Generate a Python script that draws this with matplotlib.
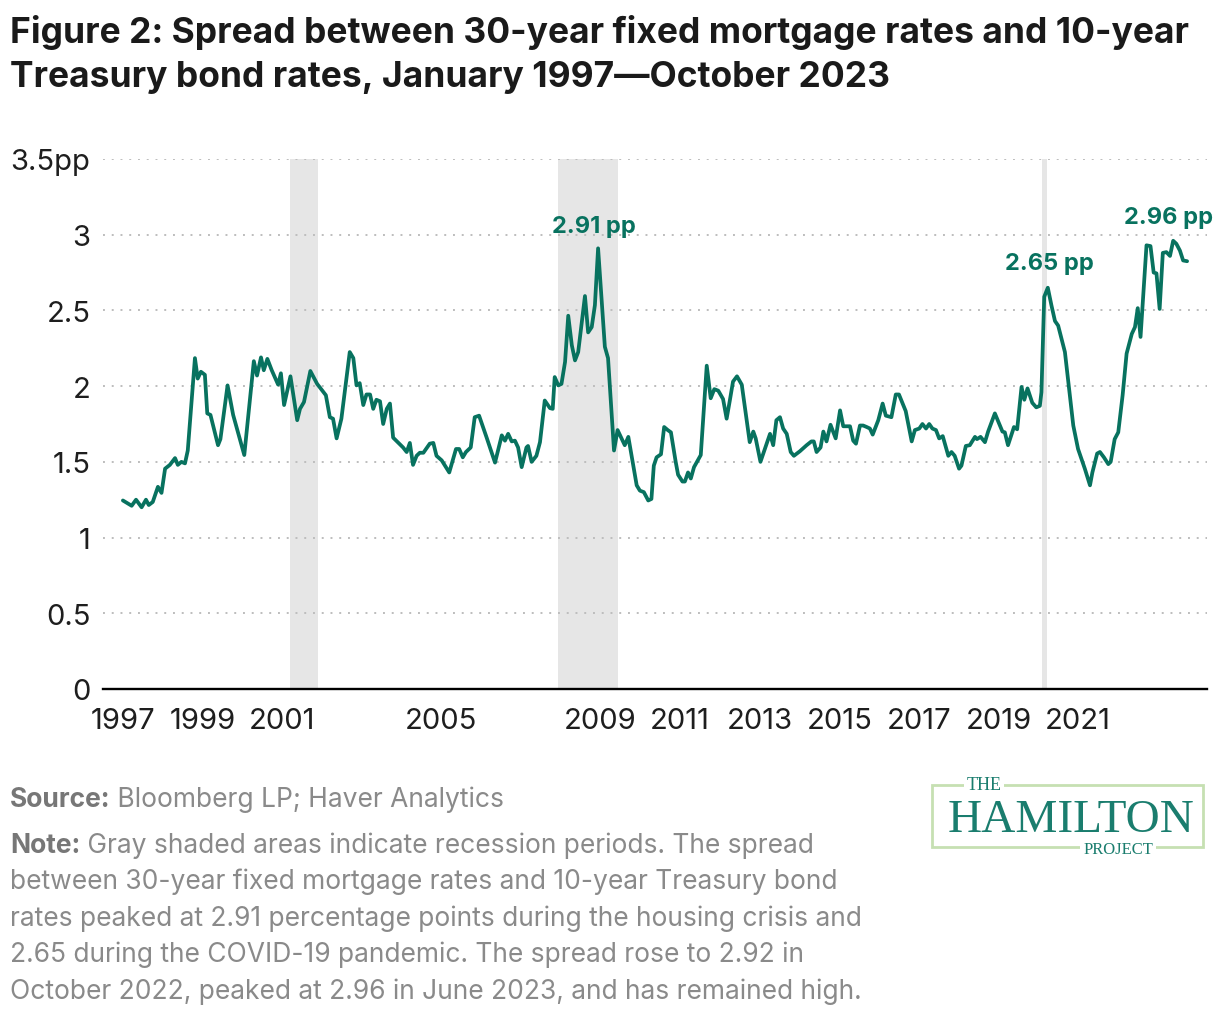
import matplotlib
matplotlib.use("Agg")
import matplotlib.pyplot as plt
from matplotlib.patches import Rectangle

plt.rcParams['font.family'] = ['Inter', 'DejaVu Sans']

# data (decimal year, spread in pp)
years = [
    1997.00, 1997.22, 1997.33, 1997.47, 1997.58, 1997.65, 1997.75, 1997.88, 1997.97,
    1998.06, 1998.18, 1998.31, 1998.38, 1998.47, 1998.56, 1998.63, 1998.81, 1998.88, 1998.96,
    1999.06, 1999.12, 1999.20, 1999.39, 1999.45, 1999.63, 1999.77,
    2000.05, 2000.29, 2000.37, 2000.47, 2000.54, 2000.63, 2000.74, 2000.90, 2000.97,
    2001.05, 2001.21, 2001.38, 2001.45, 2001.55, 2001.71, 2001.88,
    2002.10, 2002.20, 2002.28, 2002.37, 2002.49, 2002.70, 2002.79, 2002.87, 2002.95,
    2003.04, 2003.12, 2003.21, 2003.29, 2003.37, 2003.46, 2003.54, 2003.63, 2003.71, 2003.79,
    2004.04, 2004.13, 2004.21, 2004.29, 2004.38, 2004.46, 2004.55, 2004.71, 2004.80, 2004.88,
    2005.01, 2005.20, 2005.37, 2005.45, 2005.54, 2005.62, 2005.74, 2005.84, 2005.95,
    2006.14, 2006.35, 2006.52, 2006.60, 2006.68, 2006.77, 2006.85, 2006.93,
    2007.02, 2007.14, 2007.18, 2007.27, 2007.39, 2007.48, 2007.60, 2007.73, 2007.80, 2007.85, 2007.94,
    2008.02, 2008.11, 2008.19, 2008.28, 2008.36, 2008.44, 2008.61, 2008.69, 2008.78, 2008.86, 2008.94,
    2009.11, 2009.19, 2009.34, 2009.43, 2009.53, 2009.61, 2009.70, 2009.91, 2009.99,
    2010.09, 2010.20, 2010.28, 2010.34, 2010.41, 2010.52, 2010.60, 2010.69, 2010.77, 2010.89, 2010.95,
    2011.06, 2011.12, 2011.20, 2011.27, 2011.35, 2011.52, 2011.67, 2011.77, 2011.86, 2011.96,
    2012.08, 2012.17, 2012.25, 2012.33, 2012.43, 2012.55, 2012.75, 2012.84, 2012.90,
    2013.02, 2013.26, 2013.34, 2013.42, 2013.51, 2013.59, 2013.68, 2013.78, 2013.86,
    2014.01, 2014.18, 2014.30, 2014.36, 2014.43, 2014.53, 2014.60, 2014.68, 2014.78, 2014.91,
    2015.02, 2015.10, 2015.27, 2015.35, 2015.42, 2015.52, 2015.60, 2015.69, 2015.77, 2015.84, 2015.98,
    2016.09, 2016.17, 2016.31, 2016.42, 2016.50, 2016.67, 2016.82, 2016.90,
    2017.01, 2017.09, 2017.18, 2017.26, 2017.34, 2017.43, 2017.51, 2017.60, 2017.74, 2017.82, 2017.90,
    2018.01, 2018.07, 2018.18, 2018.28, 2018.41, 2018.46, 2018.55, 2018.66, 2018.74, 2018.91,
    2019.10, 2019.16, 2019.24, 2019.39, 2019.47, 2019.58, 2019.65, 2019.73, 2019.85, 2019.95,
    2020.04, 2020.08, 2020.15, 2020.24, 2020.33, 2020.42, 2020.50, 2020.67, 2020.88,
    2021.00, 2021.17, 2021.30, 2021.36, 2021.48, 2021.55, 2021.65, 2021.76, 2021.82, 2021.92,
    2022.01, 2022.12, 2022.22, 2022.35, 2022.43, 2022.50, 2022.57, 2022.72, 2022.82, 2022.90, 2022.97,
    2023.05, 2023.13, 2023.22, 2023.31, 2023.39, 2023.47, 2023.56, 2023.64, 2023.74,
]
spread = [
    1.245, 1.21, 1.25, 1.20, 1.25, 1.215, 1.235, 1.335, 1.295,
    1.455, 1.48, 1.525, 1.48, 1.50, 1.49, 1.575, 2.185, 2.05, 2.095,
    2.075, 1.82, 1.81, 1.61, 1.65, 2.005, 1.81,
    1.545, 2.165, 2.07, 2.19, 2.105, 2.18, 2.105, 2.01, 2.085,
    1.875, 2.065, 1.775, 1.85, 1.895, 2.10, 2.015,
    1.94, 1.795, 1.785, 1.655, 1.785, 2.225, 2.185, 2.005, 2.02,
    1.875, 1.945, 1.945, 1.85, 1.91, 1.90, 1.75, 1.85, 1.885, 1.66,
    1.595, 1.565, 1.625, 1.48, 1.54, 1.56, 1.56, 1.62, 1.625, 1.54,
    1.51, 1.43, 1.585, 1.585, 1.53, 1.565, 1.595, 1.795, 1.805,
    1.66, 1.495, 1.675, 1.64, 1.685, 1.635, 1.64, 1.595,
    1.465, 1.595, 1.605, 1.50, 1.54, 1.63, 1.905, 1.855, 1.85, 2.06, 2.005,
    2.015, 2.16, 2.465, 2.27, 2.17, 2.225, 2.595, 2.355, 2.39, 2.535, 2.91,
    2.26, 2.185, 1.575, 1.71, 1.655, 1.61, 1.665, 1.345, 1.31,
    1.30, 1.245, 1.255, 1.475, 1.53, 1.55, 1.73, 1.71, 1.695, 1.50, 1.415,
    1.37, 1.37, 1.43, 1.39, 1.465, 1.545, 2.135, 1.92, 1.98, 1.97,
    1.915, 1.785, 1.905, 2.03, 2.065, 2.01, 1.63, 1.70, 1.655,
    1.50, 1.685, 1.61, 1.775, 1.795, 1.72, 1.685, 1.565, 1.54,
    1.57, 1.61, 1.635, 1.635, 1.565, 1.595, 1.70, 1.635, 1.745, 1.655,
    1.84, 1.735, 1.735, 1.64, 1.62, 1.74, 1.74, 1.73, 1.72, 1.68, 1.775,
    1.885, 1.805, 1.795, 1.945, 1.945, 1.835, 1.635, 1.71,
    1.72, 1.75, 1.72, 1.75, 1.72, 1.71, 1.655, 1.67, 1.54, 1.565, 1.54,
    1.455, 1.475, 1.605, 1.61, 1.665, 1.65, 1.665, 1.63, 1.70, 1.82,
    1.70, 1.695, 1.61, 1.73, 1.715, 1.995, 1.91, 1.985, 1.89, 1.86,
    1.87, 1.96, 2.59, 2.65, 2.535, 2.43, 2.40, 2.225, 1.74,
    1.585, 1.455, 1.345, 1.43, 1.555, 1.565, 1.53, 1.485, 1.50, 1.65,
    1.695, 1.94, 2.215, 2.345, 2.39, 2.515, 2.325, 2.93, 2.925, 2.75, 2.745,
    2.51, 2.88, 2.885, 2.86, 2.96, 2.94, 2.895, 2.83, 2.825,
]

recessions = [(2001.20, 2001.90), (2007.93, 2009.44), (2020.09, 2020.22)]

year_ticks = [1997, 1999, 2001, 2005, 2009, 2011, 2013, 2015, 2017, 2019, 2021]
y_ticks = [0, 0.5, 1, 1.5, 2, 2.5, 3, 3.5]
y_labels = ['0', '0.5', '1', '1.5', '2', '2.5', '3', '3.5pp']

callouts = [('2.91 pp', 2008.83, 3.055, 'center'),
            ('2.65 pp', 2020.29, 2.81, 'center'),
            ('2.96 pp', 2022.16, 3.12, 'left')]

TEAL = '#08725f'
W, H = 1220, 1020

fig = plt.figure(figsize=(W / 100, H / 100), dpi=100)
ax = fig.add_axes([103 / W, 1 - 690 / H, (1207 - 103) / W, (690 - 160) / H])

for a, b in recessions:
    ax.axvspan(a, b, color='#e6e6e6', lw=0, zorder=0)

for y in y_ticks[1:]:
    ax.axhline(y, color='#bdbdbd', lw=1.4, ls=(0, (1, 3.5)), zorder=1)
ax.axhline(0, color='black', lw=1.7, zorder=4, clip_on=False)

ax.plot(years, spread, color=TEAL, lw=2.7, solid_joinstyle='round',
        solid_capstyle='round', zorder=3)

for txt, x, y, ha in callouts:
    ax.text(x, y, txt, color=TEAL, fontsize=17, fontweight='bold',
            ha=ha, va='center', clip_on=False)

ax.set_xlim(1996.5, 2024.24)
ax.set_ylim(0, 3.5)
ax.set_xticks(year_ticks)
ax.set_xticklabels([str(t) for t in year_ticks])
ax.set_yticks(y_ticks)
ax.set_yticklabels(y_labels)
for s in ax.spines.values():
    s.set_visible(False)
ax.tick_params(length=0, labelsize=21, colors='#1e1e1e')
ax.tick_params(axis='y', pad=9)
ax.tick_params(axis='x', pad=13)

# title
fig.text(10 / W, 1 - 43 / H, 'Figure 2: Spread between 30-year fixed mortgage rates and 10-year',
         fontsize=25.5, fontweight='bold', color='#1a1a1a', va='baseline')
fig.text(10 / W, 1 - 87 / H, 'Treasury bond rates, January 1997\u2014October 2023',
         fontsize=25.5, fontweight='bold', color='#1a1a1a', va='baseline')

# source and note
GREY = '#8a8a8a'
BOLD_GREY = '#777777'
t = fig.text(10 / W, 1 - 807 / H, 'Source:', fontsize=19, fontweight='bold',
             color=BOLD_GREY, va='baseline')
ax.annotate(' Bloomberg LP; Haver Analytics', xy=(1, 0), xycoords=t,
            fontsize=19, color=GREY, va='bottom', ha='left')

t2 = fig.text(10 / W, 1 - 853 / H, 'Note:', fontsize=19, fontweight='bold',
              color=BOLD_GREY, va='baseline')
ax.annotate(' Gray shaded areas indicate recession periods. The spread', xy=(1, 0),
            xycoords=t2, fontsize=19, color=GREY, va='bottom', ha='left')
note_lines = [
    'between 30-year fixed mortgage rates and 10-year Treasury bond',
    'rates peaked at 2.91 percentage points during the housing crisis and',
    '2.65 during the COVID-19 pandemic. The spread rose to 2.92 in',
    'October 2022, peaked at 2.96 in June 2023, and has remained high.',
]
for i, line in enumerate(note_lines):
    fig.text(10 / W, 1 - (889.5 + 36.5 * i) / H, line, fontsize=19, color=GREY,
             va='baseline')

# logo
LOGO = '#1a7d6e'
fig.add_artist(Rectangle((932 / W, 1 - 848 / H), 271 / W, 62 / H,
                         transform=fig.transFigure, fill=False,
                         ec='#c6e0b2', lw=2))
fig.text(984 / W, 1 - 786 / H, 'THE', fontsize=13, color=LOGO, ha='center',
         va='center', family='Liberation Serif',
         bbox=dict(fc='white', ec='none', pad=2))
fig.text(1071 / W, 1 - 832 / H, 'HAMILTON', fontsize=34, color=LOGO, ha='center',
         va='baseline', family='Liberation Serif')
fig.text(1118 / W, 1 - 850 / H, 'PROJECT', fontsize=12, color=LOGO, ha='center',
         va='center', family='Liberation Serif',
         bbox=dict(fc='white', ec='none', pad=2))

fig.savefig('out.png', dpi=100, facecolor='white')
